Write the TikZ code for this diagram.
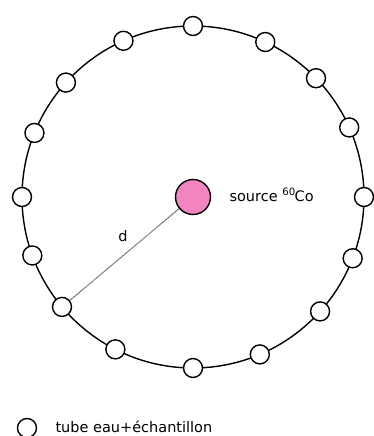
\documentclass[tikz,border=0pt]{standalone}
\usepackage{fontspec}
\setmainfont{DejaVu Sans}
\definecolor{sourcepink}{HTML}{F384C2}
\tikzset{
  tube/.style={circle, draw, fill=white, line width=1.4pt, minimum size=19pt, inner sep=0pt},
  source/.style={circle, draw, fill=sourcepink, line width=1.4pt, minimum size=35pt, inner sep=0pt},
  lbl/.style={font=\fontsize{14.5}{16}\selectfont}
}
\begin{document}
\begin{tikzpicture}[x=1pt,y=1pt]
\useasboundingbox (0,0) rectangle (374,436);
% ring of tubes round the source
\coordinate (c) at (193,239);
\draw[line width=1.4pt] (c) circle (171);
\foreach \a [count=\i] in {0,24,44,65,90,114,138,158,180,200,220,243,270,293,318,339}
  \node[tube] (t\i) at ([shift={(\a:171)}]c) {};
\node[source] (src) at (c) {};
\node[lbl, anchor=west] (srclbl) at (226,241) {source \raisebox{1pt}{\textsuperscript{60}}\kern-1ptCo};
\draw[gray!60!black, line width=0.9pt, dash pattern=on 0.8pt off 0.5pt] (src) -- (t11);
\node[lbl] (d) at (123,200) {d};
% legend
\node[tube] (legtube) at (27,8) {};
\node[lbl, anchor=west] (leglbl) at (52,9) {tube eau+échantillon};
\end{tikzpicture}
\end{document}
